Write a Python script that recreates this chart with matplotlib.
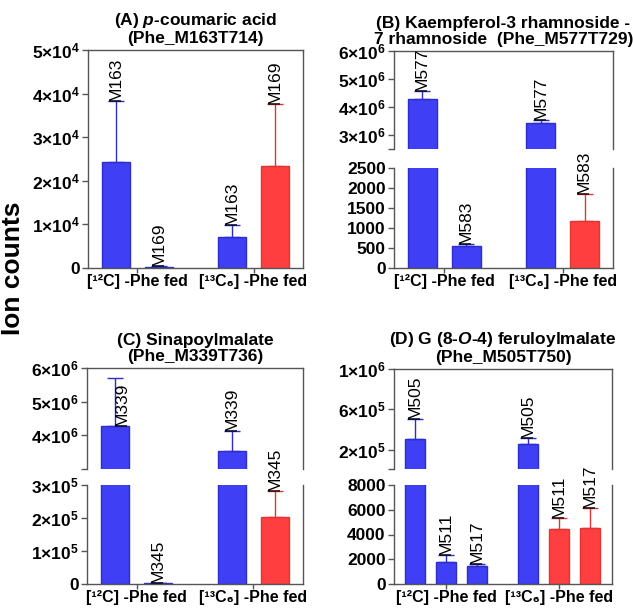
import matplotlib
matplotlib.use('Agg')
import matplotlib.pyplot as plt

plt.rcParams['font.family'] = ['Liberation Sans', 'DejaVu Sans']
plt.rcParams['mathtext.fontset'] = 'custom'
plt.rcParams['mathtext.rm'] = 'Liberation Sans:bold'
plt.rcParams['mathtext.bf'] = 'Liberation Sans:bold'
plt.rcParams['mathtext.it'] = 'Liberation Sans:bold:italic'
plt.rcParams['mathtext.default'] = 'bf'

W, H = 633, 610
BLUE, BLUE_EDGE = '#3f3ff5', '#2d2dcc'
RED, RED_EDGE = '#ff3f3f', '#e03535'
SPINE = '#555555'

group_labels = ['[¹²C] -Phe fed', '[¹³C₆] -Phe fed']

# (A) p-coumaric acid
a_pos = [0, 1, 2.7, 3.7]
a_vals = [24200, 300, 7100, 23500]
a_tops = [38300, 450, 9900, 37600]
a_names = ['M163', 'M169', 'M163', 'M169']
a_red = [False, False, False, True]
a_ticks = [0, 1e4, 2e4, 3e4, 4e4, 5e4]
a_ticklabels = ['0', '1×10$^{4}$', '2×10$^{4}$', '3×10$^{4}$', '4×10$^{4}$', '5×10$^{4}$']

# (B) Kaempferol-3 rhamnoside - 7 rhamnoside
b_pos = [0, 1, 2.7, 3.7]
b_vals = [4.3e6, 550, 3.42e6, 1180]
b_tops = [4.57e6, 600, 3.55e6, 1840]
b_names = ['M577', 'M583', 'M577', 'M583']
b_red = [False, False, False, True]
b_low_ticks = [0, 500, 1000, 1500, 2000, 2500]
b_low_labels = ['0', '500', '1000', '1500', '2000', '2500']
b_up_ticks = [3e6, 4e6, 5e6, 6e6]
b_up_labels = ['3×10$^{6}$', '4×10$^{6}$', '5×10$^{6}$', '6×10$^{6}$']

# (C) Sinapoylmalate
c_pos = [0, 1, 2.7, 3.7]
c_vals = [4.29e6, 3000, 3.53e6, 2.04e5]
c_tops = [5.7e6, 4000, 4.12e6, 2.82e5]
c_names = ['M339', 'M345', 'M339', 'M345']
c_red = [False, False, False, True]
c_low_ticks = [0, 1e5, 2e5, 3e5]
c_low_labels = ['0', '1×10$^{5}$', '2×10$^{5}$', '3×10$^{5}$']
c_up_ticks = [4e6, 5e6, 6e6]
c_up_labels = ['4×10$^{6}$', '5×10$^{6}$', '6×10$^{6}$']

# (D) G (8-O-4) feruloylmalate
d_pos = [0, 1, 2, 3.65, 4.65, 5.65]
d_vals = [3.1e5, 1760, 1440, 2.6e5, 4480, 4560]
d_tops = [5.0e5, 2320, 1600, 3.2e5, 5360, 6160]
d_names = ['M505', 'M511', 'M517', 'M505', 'M511', 'M517']
d_red = [False, False, False, False, True, True]
d_low_ticks = [0, 2000, 4000, 6000, 8000]
d_low_labels = ['0', '2000', '4000', '6000', '8000']
d_up_ticks = [2e5, 6e5, 1e6]
d_up_labels = ['2×10$^{5}$', '6×10$^{5}$', '1×10$^{6}$']


def rect(l, t, r, b):
    return [l / W, 1 - b / H, (r - l) / W, (b - t) / H]


def style(ax):
    for s in ax.spines.values():
        s.set_color(SPINE)
        s.set_linewidth(1)
    ax.tick_params(axis='both', direction='out', length=4, width=1, color=SPINE)
    ax.tick_params(axis='y', pad=2, labelsize=12.5)
    ax.tick_params(axis='x', pad=0.5, length=3.5, labelsize=11.5)
    for lab in ax.get_yticklabels():
        lab.set_fontweight('bold')


def bars(ax, pos, vals, tops, red, floor=None):
    for x, v, t, r in zip(pos, vals, tops, red):
        if floor is not None and v <= floor:
            continue
        fc, ec = (RED, RED_EDGE) if r else (BLUE, BLUE_EDGE)
        ax.bar(x, v, width=0.65, color=fc, edgecolor=ec, linewidth=1)
        ax.errorbar(x, v, yerr=[[0], [t - v]], fmt='none', ecolor=ec,
                    elinewidth=1, capsize=6, capthick=1)


def xaxis(ax, pos, xlim, ngroup):
    ax.set_xlim(*xlim)
    centers = [sum(pos[:ngroup]) / ngroup, sum(pos[ngroup:]) / ngroup]
    ax.set_xticks(centers, group_labels)
    for lab in ax.get_xticklabels():
        lab.set_fontweight('bold')


def names(ax_of, pos, vals, tops, labs, at_bar=()):
    for i, (x, t, n) in enumerate(zip(pos, tops, labs)):
        y = vals[i] if i in at_bar else t
        dx = 0.17 if i in at_bar else 0
        ax = ax_of(y)
        ax.text(x + dx, y, n, rotation=90, ha='center', va='bottom',
                fontsize=12.5, fontweight='normal', clip_on=False)


def title(ax, text):
    ax.set_title(text, fontsize=12.5, fontweight='bold', pad=5, linespacing=1.1)


fig = plt.figure(figsize=(W / 100, H / 100), dpi=100)

# panel A: single axis
ax = fig.add_axes(rect(88, 50, 303, 268))
bars(ax, a_pos, a_vals, a_tops, a_red)
ax.set_ylim(0, 5e4)
ax.set_yticks(a_ticks, a_ticklabels)
xaxis(ax, a_pos, (-0.65, 4.35), 2)
style(ax)
names(lambda y: ax, a_pos, a_vals, a_tops, a_names)
title(ax, '(A) $\\it{p}$-coumaric acid\n(Phe_M163T714)')


def broken(l, r, up_t, up_b, lo_t, lo_b, pos, vals, tops, red, labs,
           up_lim, lo_lim, up_ticks, up_labels, lo_ticks, lo_labels,
           xlim, ngroup, ttl, at_bar=()):
    up = fig.add_axes(rect(l, up_t, r, up_b))
    lo = fig.add_axes(rect(l, lo_t, r, lo_b))
    bars(up, pos, vals, tops, red, floor=up_lim[0])
    bars(lo, pos, vals, tops, red)
    up.set_xlim(*xlim)
    up.set_ylim(*up_lim)
    lo.set_ylim(*lo_lim)
    up.set_yticks(list(up_ticks) + [up_lim[0]], list(up_labels) + [''])
    lo.set_yticks(lo_ticks, lo_labels)
    up.spines['bottom'].set_visible(False)
    lo.spines['top'].set_visible(False)
    xaxis(lo, pos, xlim, ngroup)
    style(up)
    style(lo)
    up.tick_params(axis='x', bottom=False, labelbottom=False)
    names(lambda y: up if y > lo_lim[1] else lo, pos, vals, tops, labs, at_bar)
    title(up, ttl)


broken(394, 613, 51, 149, 168, 268, b_pos, b_vals, b_tops, b_red, b_names,
       (2.5e6, 6e6), (0, 2500), b_up_ticks, b_up_labels, b_low_ticks, b_low_labels,
       (-0.65, 4.35), 2, '(B) Kaempferol-3 rhamnoside -\n7 rhamnoside  (Phe_M577T729)')

broken(87, 303, 368, 469, 485, 584, c_pos, c_vals, c_tops, c_red, c_names,
       (3e6, 6e6), (0, 3e5), c_up_ticks, c_up_labels, c_low_ticks, c_low_labels,
       (-0.65, 4.35), 2, '(C) Sinapoylmalate\n(Phe_M339T736)', at_bar=(0,))

broken(394, 612, 369, 469, 485, 584, d_pos, d_vals, d_tops, d_red, d_names,
       (8000, 1e6), (0, 8000), d_up_ticks, d_up_labels, d_low_ticks, d_low_labels,
       (-0.68, 6.35), 3, '(D) G (8-$\\it{O}$-4) feruloylmalate\n(Phe_M505T750)')

fig.text(0.02, 1 - 268 / H, 'Ion counts', rotation=90, ha='center', va='center',
         fontsize=19, fontweight='bold')

fig.savefig('out.png', dpi=100)
